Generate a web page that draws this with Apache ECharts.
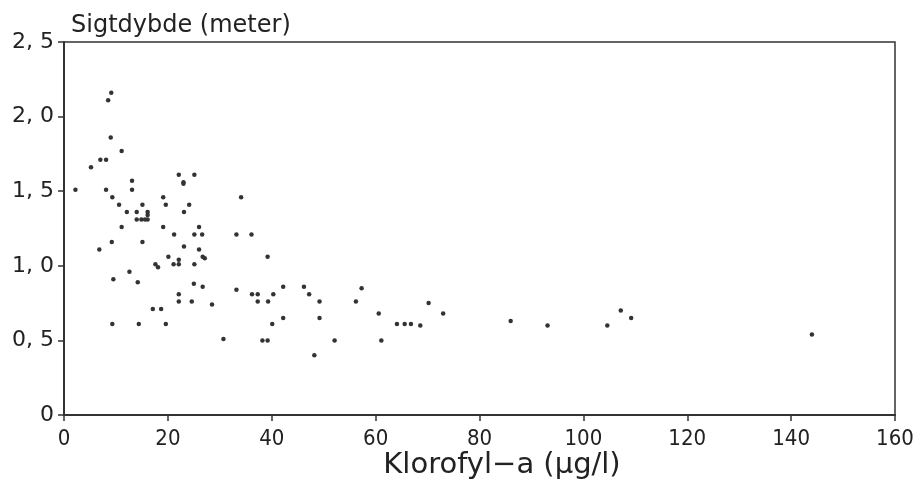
<!DOCTYPE html>
<html>
<head>
<meta charset="utf-8">
<script src="https://cdn.jsdelivr.net/npm/echarts@6/dist/echarts.min.js"></script>
<style>html,body{margin:0;padding:0;background:#fff}#c{width:924px;height:497px}</style>
</head>
<body>
<div id="c"></div>
<script>
// Klorofyl-a (µg/l)
const chlorophyll = [
  9.1, 8.5, 9.0, 11.1, 7.0, 8.1, 5.2, 2.2, 8.1, 13.1,
  13.1, 9.3, 10.6, 15.1, 12.1, 14.0, 16.1, 16.1, 16.1, 14.0,
  14.9, 15.6, 11.1, 19.1, 19.6, 22.1, 25.1, 23.0, 23.0, 24.1,
  23.1, 19.1, 21.2, 25.1, 26.0, 9.2, 15.1, 6.8, 23.1, 26.0,
  20.1, 22.1, 17.6, 18.1, 21.1, 22.1, 25.1, 12.6, 9.5, 14.2,
  25.0, 22.1, 22.1, 24.6, 17.1, 18.7, 9.3, 14.4, 19.6, 34.1,
  26.6, 33.2, 36.1, 26.7, 27.1, 39.2, 26.7, 33.2, 36.2, 37.3,
  40.3, 42.2, 46.2, 47.2, 49.2, 28.5, 37.3, 39.3, 40.1, 42.2,
  49.2, 30.7, 38.2, 39.2, 48.2, 52.1, 56.2, 57.3, 60.6, 61.1,
  64.1, 65.6, 66.8, 68.6, 70.2, 73.0, 86.0, 93.1, 104.6, 107.2,
  109.2, 144.0
];
// Sigtdybde (meter)
const secchiDepth = [
  2.16, 2.11, 1.86, 1.77, 1.71, 1.71, 1.66, 1.51, 1.51, 1.57,
  1.51, 1.46, 1.41, 1.41, 1.36, 1.36, 1.36, 1.34, 1.31, 1.31,
  1.31, 1.31, 1.26, 1.46, 1.41, 1.61, 1.61, 1.56, 1.55, 1.41,
  1.36, 1.26, 1.21, 1.21, 1.26, 1.16, 1.16, 1.11, 1.13, 1.11,
  1.06, 1.04, 1.01, 0.99, 1.01, 1.01, 1.01, 0.96, 0.91, 0.89,
  0.88, 0.81, 0.76, 0.76, 0.71, 0.71, 0.61, 0.61, 0.61, 1.46,
  1.21, 1.21, 1.21, 1.06, 1.05, 1.06, 0.86, 0.84, 0.81, 0.81,
  0.81, 0.86, 0.86, 0.81, 0.76, 0.74, 0.76, 0.76, 0.61, 0.65,
  0.65, 0.51, 0.50, 0.50, 0.40, 0.50, 0.76, 0.85, 0.68, 0.50,
  0.61, 0.61, 0.61, 0.60, 0.75, 0.68, 0.63, 0.60, 0.60, 0.70,
  0.65, 0.54
];
const xTicks = [0, 20, 40, 60, 80, 100, 120, 140, 160];
const yTicks = [0, 0.5, 1.0, 1.5, 2.0, 2.5];
const yTitle = 'Sigtdybde (meter)';
const xTitle = 'Klorofyl\u2212a (\u00b5g/l)';

const points = chlorophyll.map((x, i) => [x, secchiDepth[i]]);
const chart = echarts.init(document.getElementById('c'), null, {renderer: 'canvas'});
const sans = 'DejaVu Sans, Liberation Sans, sans-serif';
const narrow = 'DejaVu Sans Condensed, Liberation Sans Narrow, Liberation Sans, sans-serif';
chart.setOption({
  animation: false,
  backgroundColor: '#fff',
  title: [
    {text: yTitle, left: 66, top: 9, textStyle: {fontFamily: sans, fontSize: 24, fontWeight: 'normal', color: '#222'}},
    {text: xTitle, left: 497, textAlign: 'center', top: 446, textStyle: {fontFamily: sans, fontSize: 29, fontWeight: 'normal', color: '#222'}}
  ],
  grid: {left: 64, right: 29, top: 42, bottom: 82, show: true, borderColor: '#333', borderWidth: 1.5, backgroundColor: 'transparent'},
  xAxis: {
    type: 'value', min: xTicks[0], max: xTicks[xTicks.length - 1], interval: 20,
    axisLine: {show: true, lineStyle: {color: '#333', width: 2}},
    axisTick: {show: true, length: 6, inside: false, lineStyle: {color: '#333', width: 1.5}},
    axisLabel: {fontFamily: narrow, fontSize: 22, color: '#222', margin: 13},
    splitLine: {show: false}
  },
  yAxis: {
    type: 'value', min: yTicks[0], max: yTicks[yTicks.length - 1], interval: 0.5,
    axisLine: {show: true, lineStyle: {color: '#333', width: 2}},
    axisTick: {show: true, length: 6, inside: false, lineStyle: {color: '#333', width: 1.5}},
    axisLabel: {fontFamily: sans, fontSize: 22, color: '#222', margin: 10,
      formatter: v => v === 0 ? '0' : v.toFixed(1).replace('.', ', ')},
    splitLine: {show: false}
  },
  series: [{
    type: 'scatter',
    data: points,
    symbol: 'circle',
    symbolSize: 4.5,
    itemStyle: {color: '#333', opacity: 1}
  }]
});
</script>
</body>
</html>
